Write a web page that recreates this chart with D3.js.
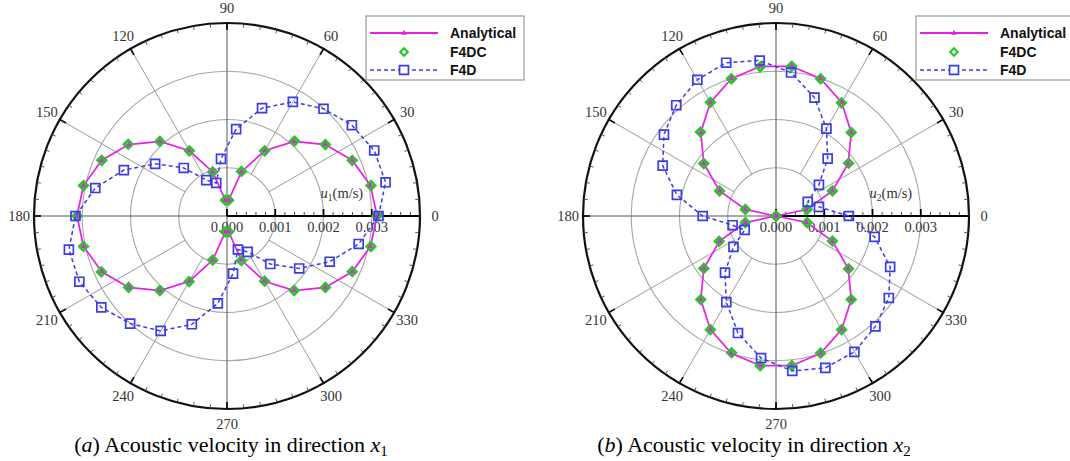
<!DOCTYPE html>
<html>
<head>
<meta charset="utf-8">
<title>Acoustic velocity | polar</title>
<script src="https://d3js.org/d3.v7.min.js"></script>
<style>
	body { margin: 0; background: white; }
	svg text { font-family: "Liberation Serif", "Times New Roman", serif; }
	.legend text { font-family: "Liberation Sans", Arial, sans-serif; font-weight: bold; font-size: 14px; fill: #111; }
</style>
</head>
<body>
<script>
var width = 1070;
var height = 461;

// sample directions (degrees, counter clockwise from x1 axis)
var angles = [0, 12, 24, 36, 48, 60, 72, 84, 96, 108, 120, 132, 144, 156, 168,
	180, 192, 204, 216, 228, 240, 252, 264, 276, 288, 300, 312, 324, 336, 348];

// (a) u1 in m/s
var analyticalU1 = [0.00311, 0.00304, 0.00284, 0.00252, 0.00208, 0.00156, 0.00096, 0.00033, 0.00033, 0.00096, 0.00156, 0.00208, 0.00252, 0.00284, 0.00304,
	0.00311, 0.00304, 0.00284, 0.00252, 0.00208, 0.00156, 0.00096, 0.00033, 0.00033, 0.00096, 0.00156, 0.00208, 0.00252, 0.00284, 0.00304];
var f4dcU1 = [0.00311, 0.00305, 0.00284, 0.00252, 0.00209, 0.00156, 0.00097, 0.00033, 0.00033, 0.00096, 0.00156, 0.00208, 0.00253, 0.00284, 0.00304,
	0.00311, 0.00304, 0.00285, 0.00252, 0.00208, 0.00157, 0.00096, 0.00033, 0.00033, 0.00097, 0.00156, 0.00208, 0.00252, 0.00284, 0.00305];
var f4dU1 = [0.00314, 0.00336, 0.00334, 0.00320, 0.00299, 0.00273, 0.00235, 0.00181, 0.00119, 0.00072, 0.00086, 0.00134, 0.00184, 0.00234, 0.00279,
	0.00314, 0.00335, 0.00335, 0.00322, 0.00300, 0.00275, 0.00236, 0.00182, 0.00120, 0.00073, 0.00086, 0.00134, 0.00185, 0.00233, 0.00279];

// (b) u2 in m/s
var analyticalU2 = [0.00000, 0.00065, 0.00128, 0.00185, 0.00233, 0.00272, 0.00299, 0.00312, 0.00312, 0.00299, 0.00272, 0.00233, 0.00185, 0.00128, 0.00065,
	0.00000, 0.00065, 0.00128, 0.00185, 0.00233, 0.00272, 0.00299, 0.00312, 0.00312, 0.00299, 0.00272, 0.00233, 0.00185, 0.00128, 0.00065];
var f4dcU2 = [0.00000, 0.00066, 0.00128, 0.00186, 0.00233, 0.00271, 0.00299, 0.00312, 0.00311, 0.00299, 0.00272, 0.00234, 0.00185, 0.00128, 0.00065,
	0.00000, 0.00065, 0.00129, 0.00185, 0.00233, 0.00272, 0.00298, 0.00312, 0.00312, 0.00299, 0.00272, 0.00233, 0.00186, 0.00128, 0.00066];
var f4dU2 = [0.00151, 0.00091, 0.00072, 0.00110, 0.00160, 0.00209, 0.00258, 0.00299, 0.00324, 0.00334, 0.00326, 0.00309, 0.00287, 0.00257, 0.00210,
	0.00152, 0.00092, 0.00071, 0.00109, 0.00158, 0.00206, 0.00255, 0.00296, 0.00323, 0.00331, 0.00325, 0.00308, 0.00289, 0.00259, 0.00209];

var angleTicks = [0, 30, 60, 90, 120, 150, 180, 210, 240, 270, 300, 330];
var radialTicks = [0, 0.001, 0.002, 0.003];
var legendNames = ["Analytical", "F4DC", "F4D"];

var magenta = "#e81ee8";
var green = "#2fc22f";
var blue = "#3b3be8";

var rMax = 193;
var r = d3.scaleLinear().domain([0, 0.004]).range([0, rMax]);

function rad(deg) { return deg * Math.PI / 180; }
// d3 radial angle is clockwise from 12 o'clock
function pt(deg, v) { return d3.pointRadial(Math.PI / 2 - rad(deg), r(v)); }
function ptPx(deg, px) { return d3.pointRadial(Math.PI / 2 - rad(deg), px); }

var svg = d3.select("body")
	.append("svg")
	.attr("width", width)
	.attr("height", height);

function drawPanel(cx, cy, analytical, f4dc, f4d, sub, legendX, capX, capLetter) {
	var g = svg.append("g").attr("transform", "translate(" + cx + "," + cy + ")");

	// grid circles
	g.selectAll("circle.grid")
		.data(radialTicks.filter(function(d){ return d > 0; }))
		.enter()
		.append("circle")
		.attr("r", function(d){ return r(d); })
		.attr("fill", "none")
		.attr("stroke", "#a6a6a6")
		.attr("stroke-width", 1.1);

	// spokes
	g.selectAll("line.spoke")
		.data(angleTicks.filter(function(d){ return d % 90 != 0; }))
		.enter()
		.append("line")
		.attr("x1", function(d){ return pt(d, 0.001)[0]; })
		.attr("y1", function(d){ return pt(d, 0.001)[1]; })
		.attr("x2", function(d){ return pt(d, 0.004)[0]; })
		.attr("y2", function(d){ return pt(d, 0.004)[1]; })
		.attr("stroke", "#9a9a9a")
		.attr("stroke-width", 1);

	g.append("line").attr("x1", 0).attr("x2", 0).attr("y1", -r(0.004)).attr("y2", r(0.004))
		.attr("stroke", "#555").attr("stroke-width", 1);
	g.append("line").attr("x1", -r(0.004)).attr("x2", 0).attr("y1", 0).attr("y2", 0)
		.attr("stroke", "#555").attr("stroke-width", 1);

	// outer ring with ticks
	g.append("circle").attr("r", rMax).attr("fill", "none").attr("stroke", "#111").attr("stroke-width", 2.2);

	g.selectAll("line.amin")
		.data(d3.range(0, 360, 5))
		.enter()
		.append("line")
		.attr("x1", function(d){ return ptPx(d, rMax - 4)[0]; })
		.attr("y1", function(d){ return ptPx(d, rMax - 4)[1]; })
		.attr("x2", function(d){ return ptPx(d, rMax)[0]; })
		.attr("y2", function(d){ return ptPx(d, rMax)[1]; })
		.attr("stroke", "#444")
		.attr("stroke-width", 0.9);

	g.selectAll("line.amaj")
		.data(angleTicks)
		.enter()
		.append("line")
		.attr("x1", function(d){ return ptPx(d, rMax - 7)[0]; })
		.attr("y1", function(d){ return ptPx(d, rMax - 7)[1]; })
		.attr("x2", function(d){ return ptPx(d, rMax + 1)[0]; })
		.attr("y2", function(d){ return ptPx(d, rMax + 1)[1]; })
		.attr("stroke", "#111")
		.attr("stroke-width", 1.8);

	g.selectAll("text.alab")
		.data(angleTicks)
		.enter()
		.append("text")
		.attr("x", function(d){ return ptPx(d, rMax + 15)[0]; })
		.attr("y", function(d){ return ptPx(d, rMax + 15)[1]; })
		.attr("text-anchor", "middle")
		.attr("dominant-baseline", "central")
		.attr("font-size", 14.5)
		.attr("fill", "#333")
		.text(function(d){ return d; });

	// radial axis
	g.append("line").attr("x1", 0).attr("x2", rMax).attr("y1", 0).attr("y2", 0)
		.attr("stroke", "#000").attr("stroke-width", 2.2);
	g.selectAll("line.rmin")
		.data(r.ticks(20))
		.enter()
		.append("line")
		.attr("x1", function(d){ return r(d); })
		.attr("x2", function(d){ return r(d); })
		.attr("y1", 0)
		.attr("y2", -4)
		.attr("stroke", "#333")
		.attr("stroke-width", 0.9);
	g.selectAll("line.rmaj")
		.data(radialTicks)
		.enter()
		.append("line")
		.attr("x1", function(d){ return r(d); })
		.attr("x2", function(d){ return r(d); })
		.attr("y1", 0)
		.attr("y2", -7)
		.attr("stroke", "#000")
		.attr("stroke-width", 1.8);
	g.selectAll("text.rlab")
		.data(radialTicks)
		.enter()
		.append("text")
		.attr("x", function(d){ return r(d); })
		.attr("y", 11)
		.attr("text-anchor", "middle")
		.attr("dominant-baseline", "central")
		.attr("font-size", 14.5)
		.attr("fill", "#333")
		.text(d3.format(".3f"));

	var title = g.append("text")
		.attr("x", r(0.00194))
		.attr("y", -18)
		.attr("font-size", 14.5)
		.attr("fill", "#333");
	title.append("tspan").attr("font-style", "italic").text("u");
	title.append("tspan").attr("font-size", 9.5).attr("dy", 3).text(sub);
	title.append("tspan").attr("dy", -3).text("(m/s)");

	var line = d3.lineRadial()
		.angle(function(d, i){ return Math.PI / 2 - rad(angles[i]); })
		.radius(function(d){ return r(d); })
		.curve(d3.curveLinearClosed);

	function place(d, i) {
		var p = pt(angles[i], d);
		return "translate(" + p[0] + "," + p[1] + ")";
	}

	g.append("path").attr("d", line(analytical))
		.attr("fill", "none").attr("stroke", magenta).attr("stroke-width", 1.7);

	g.selectAll("path.f4dc")
		.data(f4dc)
		.enter()
		.append("path")
		.attr("d", d3.symbol().type(d3.symbolSquare).size(32))
		.attr("transform", function(d, i){ return place(d, i) + " rotate(45)"; })
		.attr("fill", "none")
		.attr("stroke", green)
		.attr("stroke-width", 3);

	g.selectAll("path.ana")
		.data(analytical)
		.enter()
		.append("path")
		.attr("d", d3.symbol().type(d3.symbolTriangle).size(12))
		.attr("transform", place)
		.attr("fill", magenta);

	g.append("path").attr("d", line(f4d))
		.attr("fill", "none").attr("stroke", blue).attr("stroke-width", 1.5)
		.attr("stroke-dasharray", "4,3");

	g.selectAll("path.f4d")
		.data(f4d)
		.enter()
		.append("path")
		.attr("d", d3.symbol().type(d3.symbolSquare).size(80))
		.attr("transform", place)
		.attr("fill", "none")
		.attr("stroke", blue)
		.attr("stroke-width", 1.7);

	// legend
	var lg = svg.append("g").attr("class", "legend").attr("transform", "translate(" + legendX + ",16)");
	lg.append("rect").attr("width", 158).attr("height", 64)
		.attr("fill", "white").attr("stroke", "#999").attr("stroke-width", 1.2);
	var rows = [17, 36, 54];
	lg.append("line").attr("x1", 4).attr("x2", 72).attr("y1", rows[0]).attr("y2", rows[0])
		.attr("stroke", magenta).attr("stroke-width", 2);
	lg.append("path").attr("d", d3.symbol().type(d3.symbolTriangle).size(14))
		.attr("transform", "translate(38," + rows[0] + ")").attr("fill", magenta);
	lg.append("path").attr("d", d3.symbol().type(d3.symbolSquare).size(28))
		.attr("transform", "translate(38," + rows[1] + ") rotate(45)")
		.attr("fill", "none").attr("stroke", green).attr("stroke-width", 2.2);
	lg.append("line").attr("x1", 4).attr("x2", 72).attr("y1", rows[2]).attr("y2", rows[2])
		.attr("stroke", blue).attr("stroke-width", 1.7).attr("stroke-dasharray", "4,3");
	lg.append("path").attr("d", d3.symbol().type(d3.symbolSquare).size(80))
		.attr("transform", "translate(38," + rows[2] + ")")
		.attr("fill", "white").attr("stroke", blue).attr("stroke-width", 1.7);
	lg.selectAll("text")
		.data(legendNames)
		.enter()
		.append("text")
		.attr("x", 84)
		.attr("y", function(d, i){ return rows[i]; })
		.attr("dominant-baseline", "central")
		.text(function(d){ return d; });

	// caption
	var cap = svg.append("text")
		.attr("x", capX)
		.attr("y", 452)
		.attr("text-anchor", "middle")
		.attr("font-size", 22)
		.attr("fill", "#000");
	cap.append("tspan").text("(");
	cap.append("tspan").attr("font-style", "italic").text(capLetter);
	cap.append("tspan").text(") Acoustic velocity in direction ");
	cap.append("tspan").attr("font-style", "italic").text("x");
	cap.append("tspan").attr("font-size", 15).attr("dy", 4).text(sub);
}

drawPanel(227, 216, analyticalU1, f4dcU1, f4dU1, "1", 366, 231, "a");
drawPanel(776, 216, analyticalU2, f4dcU2, f4dU2, "2", 916, 754, "b");
</script>
</body>
</html>
